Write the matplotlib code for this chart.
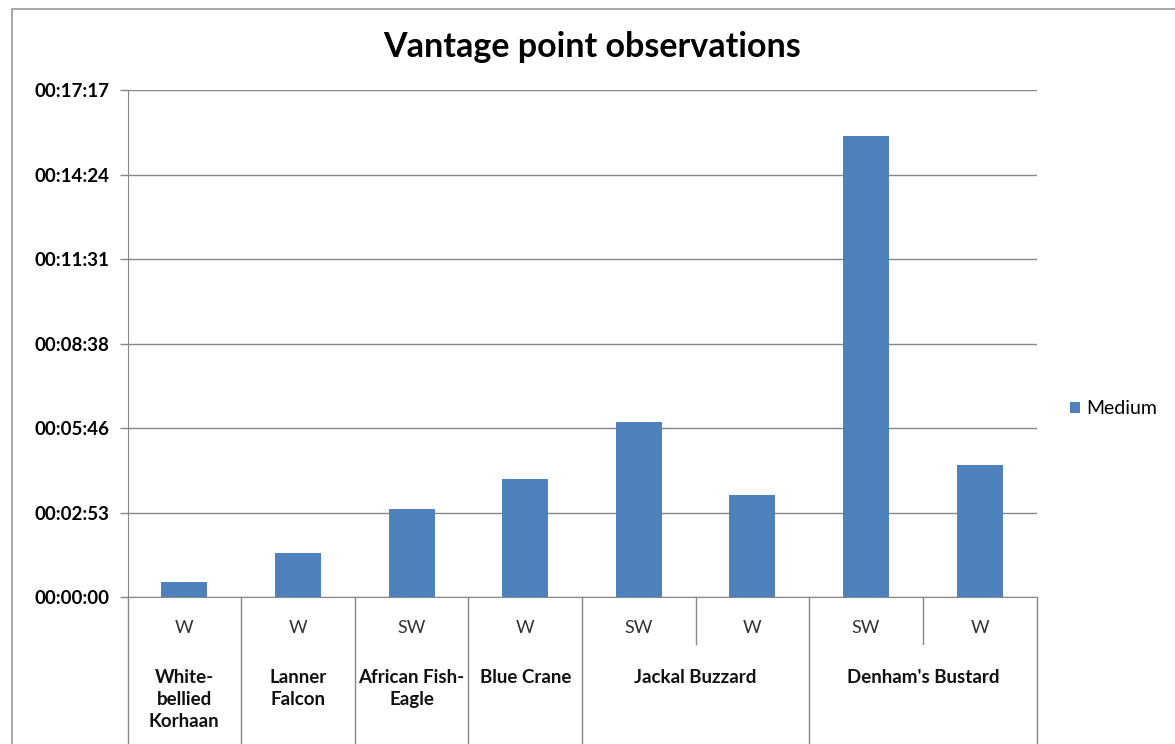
import matplotlib
matplotlib.use("Agg")
import matplotlib.pyplot as plt
from matplotlib.patches import Rectangle
from matplotlib.ticker import FixedLocator, FuncFormatter
import matplotlib.transforms as mtransforms

# ---- data ----
directions = ["W", "W", "SW", "W", "SW", "W", "SW", "W"]
species = ["White-\nbellied\nKorhaan", "Lanner\nFalcon", "African Fish-\nEagle",
           "Blue Crane", "Jackal Buzzard", "Denham's Bustard"]
species_span = [1, 1, 1, 1, 2, 2]          # number of direction bars per species
medium_seconds = [32, 90, 181, 241, 358, 210, 942, 270]
series_name = "Medium"
tick_step_seconds = 172.8                  # 0.002 day (Excel auto step)
n_ticks = 7

plt.rcParams['font.family'] = ['Lato', 'DejaVu Sans']

W, H = 1175, 744
fig = plt.figure(figsize=(W / 100, H / 100), dpi=100)

# axes placement in pixels
left, right, top, bottom = 127.5, 1036.5, 90.0, 597.3
ax = fig.add_axes([left / W, 1 - bottom / H, (right - left) / W, (bottom - top) / H])

bar_color = "#4F81BD"
grid_color = "#878787"
x = list(range(len(medium_seconds)))
bars = ax.bar(x, medium_seconds, width=0.405, color=bar_color, zorder=3)

ax.set_xlim(-0.5, len(x) - 0.5)
ymax = tick_step_seconds * (n_ticks - 1)
ax.set_ylim(0, ymax)
ticks = [tick_step_seconds * i for i in range(n_ticks)]
ax.yaxis.set_major_locator(FixedLocator(ticks))


def fmt(v, pos):
    s = int(round(v))
    return "%02d:%02d:%02d" % (s // 3600, (s % 3600) // 60, s % 60)


ax.yaxis.set_major_formatter(FuncFormatter(fmt))
for lab in ax.get_yticklabels():
    lab.set_fontweight("bold")
ax.tick_params(axis="y", length=6, color=grid_color, width=1, labelsize=13.5, pad=7)
ax.tick_params(axis="x", length=0, labelbottom=False)
ax.grid(axis="y", color=grid_color, linewidth=1, zorder=0)

for side in ["top", "right"]:
    ax.spines[side].set_visible(False)
ax.spines["left"].set_color(grid_color)
ax.spines["bottom"].set_color(grid_color)

# ---- multi-level category axis ----
trans = mtransforms.blended_transform_factory(ax.transData, ax.transAxes)
ah = bottom - top
y_full = -(H - bottom) / ah
y_short = -(644 - bottom) / ah
y_lvl1 = -(628 - bottom) / ah
y_lvl2 = -(669 - bottom) / ah

# separators
boundaries = [-0.5]
pos = -0.5
for span in species_span:
    pos += span
    boundaries.append(pos)
for b in boundaries:
    ax.plot([b, b], [0, y_full], transform=trans, color=grid_color, lw=1, clip_on=False)
pos = -0.5
for span in species_span:
    for k in range(1, span):
        xb = pos + k
        ax.plot([xb, xb], [0, y_short], transform=trans, color=grid_color, lw=1, clip_on=False)
    pos += span

for xi, d in zip(x, directions):
    ax.text(xi, y_lvl1, d, transform=trans, ha="center", va="center",
            fontsize=13, color="#333333")

pos = -0.5
for name, span in zip(species, species_span):
    cx = pos + span / 2
    ax.text(cx, y_lvl2, name, transform=trans, ha="center", va="top",
            fontsize=13.5, fontweight="bold", color="#111111", linespacing=1.35)
    pos += span

# title
fig.text(592 / W, 1 - 47 / H, "Vantage point observations", ha="center", va="center",
         fontsize=24.5, fontweight="bold")

# legend
leg = fig.legend([bars], [series_name], loc="center left",
                 bbox_to_anchor=(1052 / W, 1 - 409 / H), frameon=False,
                 handlelength=0.55, handleheight=0.55, handletextpad=0.3,
                 fontsize=14)

# outer chart border
fig.patches.append(Rectangle((12 / W, -0.1), 1.2, 1 - 9 / H + 0.1, transform=fig.transFigure,
                             fill=False, edgecolor="#9a9a9a", linewidth=1.2))

fig.savefig("out.png", dpi=100)
